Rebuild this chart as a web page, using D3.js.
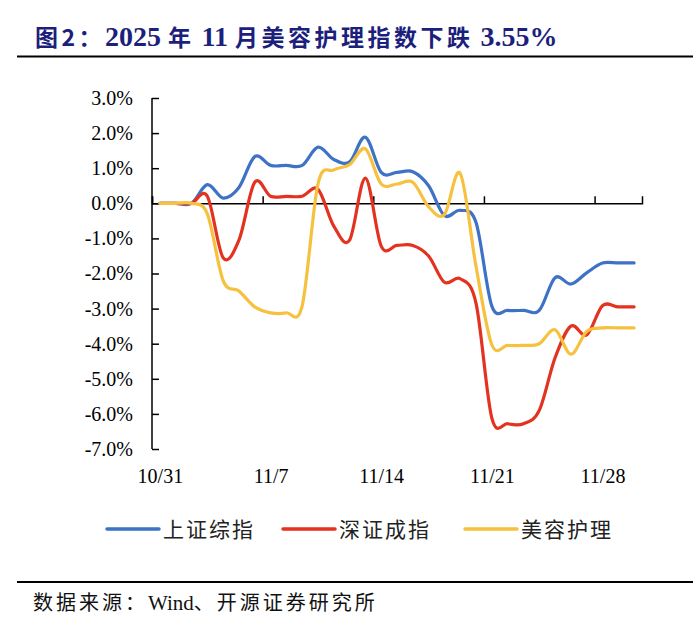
<!DOCTYPE html>
<html><head><meta charset="utf-8">
<script src="https://cdn.jsdelivr.net/npm/d3@7"></script>
<style>
html,body{margin:0;padding:0;background:#fff;}
svg{display:block;}
</style></head>
<body>
<svg id="chart" width="700" height="626"></svg>
<script>
// ---- data ----
const dates = ["2025-10-31","2025-11-01","2025-11-02","2025-11-03","2025-11-04","2025-11-05","2025-11-06","2025-11-07","2025-11-08","2025-11-09",
  "2025-11-10","2025-11-11","2025-11-12","2025-11-13","2025-11-14","2025-11-15","2025-11-16","2025-11-17","2025-11-18","2025-11-19",
  "2025-11-20","2025-11-21","2025-11-22","2025-11-23","2025-11-24","2025-11-25","2025-11-26","2025-11-27","2025-11-28","2025-11-29","2025-11-30"];
const shIndex = [0,0,0,0.53,0.15,0.45,1.33,1.08,1.08,1.08,
  1.6,1.25,1.18,1.88,0.88,0.88,0.9,0.5,-0.35,-0.2,
  -0.55,-2.93,-3.05,-3.05,-3.05,-2.12,-2.3,-1.98,-1.7,-1.7,-1.7];
const szIndex = [0,0,0,0.2,-1.55,-1.05,0.6,0.2,0.2,0.2,
  0.4,-0.65,-1.05,0.72,-1.22,-1.2,-1.2,-1.5,-2.25,-2.15,
  -2.85,-6.12,-6.28,-6.28,-5.9,-4.4,-3.5,-3.75,-2.92,-2.95,-2.95];
const beauty = [0,0,0,-0.3,-2.2,-2.5,-2.95,-3.12,-3.12,-2.92,
  0.55,0.95,1.1,1.55,0.55,0.55,0.6,-0.1,-0.32,0.85,
  -1.8,-4.03,-4.05,-4.05,-4.0,-3.6,-4.3,-3.65,-3.55,-3.55,-3.55];
const seriesNames = ["上证综指","深证成指","美容护理"];
const seriesColors = ["#3D72C5","#E3321F","#F5C13F"];
const xTickDates = ["2025-10-31","2025-11-07","2025-11-14","2025-11-21","2025-11-28"];
const xTickLabels = ["10/31","11/7","11/14","11/21","11/28"];
const yTicks = [3,2,1,0,-1,-2,-3,-4,-5,-6,-7];
const titleParts = [["图2：","cjk"],["2025 ","lat"],["年","cjk"],[" 11 ","lat"],["月美容护理指数下跌","cjk"],[" 3.55%","lat"]];
const sourceParts = [["数据来源：","cjk"],["Wind","lat"],["、开源证券研究所","cjk"]];

// ---- layout ----
const svg = d3.select("#chart");
const parse = d3.utcParse("%Y-%m-%d");
const dayMs = 864e5;
const x = d3.scaleUtc().domain([parse("2025-10-31"), parse("2025-12-01")]).range([152, 642]);
const y = d3.scaleLinear().domain([-7, 3]).range([449, 98]);
const mid = s => new Date(parse(s).getTime() + dayMs/2);

const LAT = "'Liberation Serif','Times New Roman',serif";
const CJK = "'Noto Sans CJK SC','Noto Sans CJK JP',sans-serif";

// title
const t = svg.append("text").attr("x", 35).attr("y", 46).attr("fill", "#1c1f7c").attr("font-weight", "bold");
titleParts.forEach(([s, k]) => {
  t.append("tspan").text(s)
    .attr("font-family", k === "cjk" ? CJK : LAT)
    .attr("font-size", k === "cjk" ? 23 : 28)
    .attr("letter-spacing", k === "cjk" ? 3.5 : 0);
});
svg.append("line").attr("x1", 17).attr("x2", 693).attr("y1", 56.5).attr("y2", 56.5).attr("stroke", "#000").attr("stroke-width", 2);

// y axis
const yAxis = d3.axisLeft(y).tickValues(yTicks).tickSize(-7).tickPadding(19)
  .tickFormat(v => v.toFixed(1) + "%");
const gy = svg.append("g").attr("transform", "translate(152,0)").call(yAxis);
gy.select(".domain").attr("stroke", "#000").attr("stroke-width", 1.5).attr("d", `M0,${y(3)}V${y(-7)}`);
gy.selectAll(".tick line").attr("stroke", "#000").attr("stroke-width", 1.5);
gy.selectAll(".tick text").attr("font-family", LAT).attr("font-size", 20).attr("fill", "#000");

// x axis line at zero with upward ticks
const xAxis = d3.axisBottom(x).tickValues(xTickDates.map(parse)).tickSize(-7).tickFormat("");
const gx = svg.append("g").attr("transform", `translate(0,${y(0)})`).call(xAxis);
gx.select(".domain").attr("stroke", "#000").attr("stroke-width", 1.5);
gx.selectAll(".tick line").attr("stroke", "#000").attr("stroke-width", 1.5);

// x labels at bottom, centred in each day band
const labelMap = new Map(xTickDates.map((d, i) => [mid(d).getTime(), xTickLabels[i]]));
const xLab = d3.axisBottom(x).tickValues(xTickDates.map(mid)).tickSize(0).tickPadding(0)
  .tickFormat(d => labelMap.get(d.getTime()));
const gxl = svg.append("g").attr("transform", `translate(0,${y(-7)})`).call(xLab);
gxl.select(".domain").remove();
gxl.selectAll(".tick text").attr("font-family", LAT).attr("font-size", 20).attr("fill", "#000").attr("dy", "1.05em").attr("y", 13);

// lines
const data = [shIndex, szIndex, beauty];
const line = d3.line().x((d, i) => x(mid(dates[i]))).y(d => y(d)).curve(d3.curveCardinal.tension(0));
data.forEach((vals, k) => {
  svg.append("path").datum(vals).attr("d", line).attr("fill", "none")
    .attr("stroke", seriesColors[k]).attr("stroke-width", 3.2)
    .attr("stroke-linejoin", "round").attr("stroke-linecap", "round");
});

// legend
const legX = [107, 283, 465];
seriesNames.forEach((n, k) => {
  svg.append("line").attr("x1", legX[k]).attr("x2", legX[k] + 52).attr("y1", 529).attr("y2", 529)
    .attr("stroke", seriesColors[k]).attr("stroke-width", 3.5).attr("stroke-linecap", "round");
  svg.append("text").attr("x", legX[k] + 56).attr("y", 537).text(n)
    .attr("font-family", CJK).attr("font-size", 21).attr("letter-spacing", 2).attr("fill", "#222");
});

// source
svg.append("line").attr("x1", 17).attr("x2", 693).attr("y1", 582).attr("y2", 582).attr("stroke", "#000").attr("stroke-width", 2);
const s = svg.append("text").attr("x", 33).attr("y", 610).attr("fill", "#111");
sourceParts.forEach(([p, k]) => {
  s.append("tspan").text(p).attr("font-family", k === "cjk" ? CJK : LAT)
    .attr("font-size", k === "cjk" ? 20 : 21)
    .attr("letter-spacing", k === "cjk" ? 3 : 0);
});
</script>
</body></html>
